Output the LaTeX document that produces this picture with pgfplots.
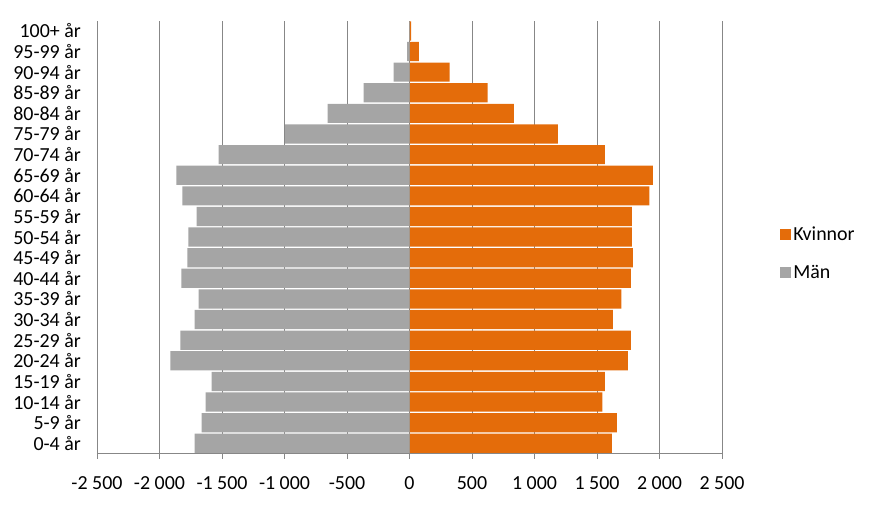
\documentclass[border=0pt]{standalone}
\usepackage{fontspec}
\setmainfont{Carlito}
\usepackage{pgfplots}
\usepackage{pgfplotstable}
\pgfplotsset{compat=1.18}
\definecolor{kv}{HTML}{E46C0A}
\definecolor{man}{HTML}{A5A5A5}
\definecolor{gridc}{HTML}{878787}
\pgfplotstableread{
idx kvinnor man
0 1618 -1720
1 1658 -1664
2 1543 -1632
3 1562 -1584
4 1746 -1912
5 1770 -1832
6 1626 -1720
7 1695 -1688
8 1770 -1824
9 1786 -1776
10 1778 -1768
11 1778 -1704
12 1919 -1816
13 1946 -1864
14 1562 -1528
15 1186 -995
16 834 -656
17 624 -368
18 320 -128
19 74 -20
20 12 -4
}\pop
\begin{document}
\begin{tikzpicture}
\useasboundingbox (-97bp,-52.4bp) rectangle (785bp,453.6bp);
\begin{axis}[
  at={(0,0)}, anchor=south west,
  scale only axis, width=625bp, height=433bp,
  xmin=-2500, xmax=2500, ymin=-0.5, ymax=20.5,
  xbar, bar width=19.2bp, bar shift=0pt,
  axis x line=bottom, axis y line=left,
  x axis line style={draw=gridc, line width=0.8pt, -},
  y axis line style={draw=none},
  xtick={-2500,-2000,...,2500},
  xticklabels={-2 500,-2 000,-1 500,-1 000,-500,0,500,1 000,1 500,2 000,2 500},
  xmajorgrids, major grid style={draw=gridc, line width=0.8pt},
  tick align=outside, major tick length=5bp,
  xtick style={draw=gridc, line width=0.8pt},
  ytick={0,...,20},
  yticklabels={0-4 år,5-9 år,10-14 år,15-19 år,20-24 år,25-29 år,30-34 år,35-39 år,40-44 år,45-49 år,50-54 år,55-59 år,60-64 år,65-69 år,70-74 år,75-79 år,80-84 år,85-89 år,90-94 år,95-99 år,100+ år},
  ytick style={draw=none},
  ticklabel style={font=\fontsize{20}{22}\selectfont, text=black},
  yticklabel style={anchor=east, inner sep=0pt, xshift=-11bp},
  xticklabel style={anchor=north, inner sep=0pt, yshift=-18bp},
  legend style={draw=none, fill=none, at={(1.093,0.463)}, anchor=west,
    font=\fontsize{20}{22}\selectfont, row sep=19bp,
    legend cell align=left, inner sep=0pt},
  legend image code/.code={\fill[#1] (0bp,-5.5bp) rectangle (11bp,5.5bp);},
]
\addplot[fill=kv, draw=none] table[x=kvinnor, y=idx] {\pop};
\addlegendentry{Kvinnor}
\addplot[fill=man, draw=none] table[x=man, y=idx] {\pop};
\addlegendentry{Män}
\end{axis}
\end{tikzpicture}
\end{document}
